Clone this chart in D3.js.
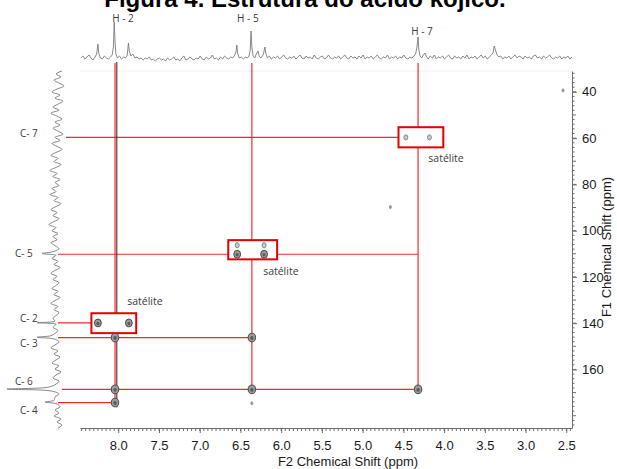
<!DOCTYPE html>
<html><head><meta charset="utf-8">
<script src="https://cdn.jsdelivr.net/npm/d3@7"></script>
<style>body{margin:0;background:#fff}svg{display:block}</style>
</head><body>
<svg id="c" width="617" height="469"></svg>
<script>
// ---------------- data ----------------
const titleBold = "Figura 4.";
const titleRest = " Estrutura do ácido kójico.";
const xTicks = [8.0, 7.5, 7.0, 6.5, 6.0, 5.5, 5.0, 4.5, 4.0, 3.5, 3.0, 2.5];
const yTicks = [40, 60, 80, 100, 120, 140, 160];
const xTitle = "F2 Chemical Shift (ppm)";
const yTitle = "F1 Chemical Shift (ppm)";
const hLabels = ["H - 2", "H - 5", "H - 7"];
const hShifts = [8.04, 6.36, 4.32];
const hLineEnds = [174.2, 168.5, 168.5];
const cLabels = ["C- 7", "C- 5", "C- 2", "C- 3", "C- 6", "C- 4"];
const cShifts = [59.7, 110.2, 139.9, 146.2, 168.6, 174.3];
const cLineEnds = [4.32, 4.32, 8.04, 6.36, 4.32, 8.04];
const crossPeaks = [[8.04, 146.2], [8.04, 168.6], [8.04, 174.3], [6.36, 146.2], [6.36, 168.6], [4.32, 168.6]];
const satellitePeaks = [[8.25, 139.9], [7.87, 139.9], [6.54, 110.2], [6.21, 110.2]];
const weakPeaks = [[6.54, 106.3], [6.21, 106.3], [4.47, 59.7], [4.18, 59.7]];
const tinyPeaks = [[2.54, 39.4], [4.66, 89.8], [6.36, 174.6]];
const satBoxes = [[8.33, 7.78, 135.7, 144.3], [6.65, 6.05, 104.1, 112.4], [4.56, 4.01, 55.3, 64.0]];
const satLabel = "satélite";

// 1H projection (ppm, intensity)
const protonSpectrum = [
[8.460,3],[8.435,5],[8.410,2],[8.385,4],[8.360,6],[8.335,3],[8.310,1],[8.285,4],[8.265,7],[8.250,17],[8.240,8],
[8.220,3],[8.195,2],[8.170,5],[8.145,3],[8.120,2],[8.095,4],[8.075,6],[8.060,14],[8.050,39],[8.040,20],[8.030,7],
[8.010,3],[7.985,5],[7.960,2],[7.935,4],[7.910,3],[7.890,6],[7.875,18],[7.865,10],[7.845,5],[7.820,7],[7.795,3],
[7.770,4],[7.745,2],[7.720,3],[7.695,1],[7.670,3],[7.645,2],[7.620,4],[7.595,1],[7.570,2],[7.545,0],[7.520,2],
[7.495,3],[7.470,1],[7.445,2],[7.420,0],[7.395,3],[7.370,1],[7.345,2],[7.320,4],[7.295,1],[7.270,2],[7.245,0],
[7.220,3],[7.195,5],[7.170,1],[7.145,2],[7.120,4],[7.095,2],[7.070,1],[7.045,3],[7.020,2],[6.995,5],[6.970,2],
[6.945,1],[6.920,4],[6.895,2],[6.870,3],[6.845,6],[6.820,2],[6.795,3],[6.770,1],[6.745,4],[6.720,2],[6.695,5],
[6.670,3],[6.645,2],[6.620,4],[6.595,3],[6.570,6],[6.555,9],[6.545,16],[6.535,8],[6.515,3],[6.490,4],[6.465,2],
[6.440,4],[6.415,3],[6.395,5],[6.380,11],[6.370,30],[6.360,14],[6.345,5],[6.325,3],[6.305,7],[6.285,10],[6.270,5],
[6.250,3],[6.230,5],[6.215,8],[6.200,14],[6.190,8],[6.170,3],[6.145,5],[6.120,2],[6.095,4],[6.070,3],[6.045,5],
[6.020,2],[5.995,4],[5.970,6],[5.945,3],[5.920,2],[5.895,4],[5.870,3],[5.845,5],[5.820,2],[5.795,4],[5.770,6],
[5.745,3],[5.720,2],[5.695,5],[5.670,3],[5.645,4],[5.620,2],[5.595,6],[5.570,3],[5.545,2],[5.520,4],[5.495,5],
[5.470,2],[5.445,3],[5.420,6],[5.395,3],[5.370,2],[5.345,4],[5.320,3],[5.295,5],[5.270,2],[5.245,4],[5.220,6],
[5.195,3],[5.170,2],[5.145,5],[5.120,3],[5.095,4],[5.070,2],[5.045,5],[5.020,3],[4.995,6],[4.970,2],[4.945,4],
[4.920,3],[4.895,5],[4.870,2],[4.845,4],[4.820,6],[4.795,3],[4.770,2],[4.745,4],[4.720,3],[4.695,6],[4.670,2],
[4.645,4],[4.620,3],[4.595,5],[4.570,2],[4.545,4],[4.520,3],[4.495,6],[4.470,3],[4.445,2],[4.420,4],[4.395,3],
[4.370,5],[4.350,7],[4.335,13],[4.320,24],[4.310,11],[4.295,5],[4.275,3],[4.255,6],[4.235,8],[4.215,4],[4.195,2],
[4.170,5],[4.145,3],[4.120,6],[4.095,2],[4.070,4],[4.045,3],[4.020,5],[3.995,2],[3.970,4],[3.945,6],[3.920,3],
[3.895,2],[3.870,5],[3.845,3],[3.820,4],[3.795,2],[3.770,5],[3.745,3],[3.720,6],[3.695,2],[3.670,4],[3.645,3],
[3.620,5],[3.595,2],[3.570,4],[3.545,6],[3.520,3],[3.495,5],[3.470,2],[3.445,4],[3.420,6],[3.400,8],[3.385,15],
[3.370,11],[3.350,6],[3.330,4],[3.305,5],[3.280,2],[3.255,4],[3.230,3],[3.205,5],[3.180,2],[3.155,4],[3.130,6],
[3.105,3],[3.080,5],[3.055,4],[3.030,2],[3.005,5],[2.980,3],[2.955,4],[2.930,2],[2.905,5],[2.880,6],[2.855,3],
[2.830,4],[2.805,2],[2.780,5],[2.755,3],[2.730,4],[2.705,6],[2.680,3],[2.655,2],[2.630,4],[2.605,3],[2.580,5],
[2.555,2],[2.530,4],[2.505,3],[2.480,5],[2.455,2],[2.430,4]
];

// 13C projection (ppm, intensity)
const carbonSpectrum = [
[31,6],[32.3,12],[33.6,7],[34.9,14],[36.2,9],[37.5,4],[38.8,11],[40.1,16],[41.4,8],[42.7,13],[44,5],[45.3,10],
[46.6,15],[47.9,9],[49.2,17],[50.5,11],[51.8,6],[53.1,13],[54.4,8],[55.7,15],[57,10],[58.3,5],[59.7,13],[61,8],
[62.3,16],[63.6,11],[64.9,6],[66.2,12],[67.5,17],[68.8,10],[70.1,14],[71.4,7],[72.7,12],[74,18],[75.3,11],
[76.6,15],[77.9,8],[79.2,13],[80.5,9],[81.8,16],[83.1,12],[84.4,18],[85.7,10],[87,14],[88.3,7],[89.6,12],
[90.9,17],[92.2,11],[93.5,15],[94.8,9],[96.1,14],[97.4,19],[98.7,12],[100,16],[101.3,10],[102.6,15],[103.9,11],
[105.2,17],[106.5,13],[107.8,9],[109.1,15],[109.9,26],[110.7,12],[112,16],[113.3,10],[114.6,14],[115.9,8],
[117.2,13],[118.5,17],[119.8,11],[121.1,15],[122.4,9],[123.7,12],[125,16],[126.3,10],[127.6,14],[128.9,8],
[130.2,13],[131.5,17],[132.8,10],[134.1,14],[135.4,9],[136.7,12],[138,15],[139.1,13],[139.8,31],[140.5,12],
[141.8,15],[143.1,10],[144.4,13],[145.4,17],[146.1,31],[146.8,14],[148.1,9],[149.4,13],[150.7,17],[152,10],
[153.3,14],[154.6,8],[155.9,12],[157.2,16],[158.5,9],[159.8,13],[161.1,7],[162.4,12],[163.7,15],[165,9],
[166.3,12],[167.6,19],[168.5,61],[169.3,17],[170.6,9],[171.9,13],[173.3,14],[174.1,23],[174.9,11],[176.2,8],
[177.5,13],[178.8,9],[180.1,14],[181.4,7],[182.7,11],[184,6],[185.3,10]
];

// ---------------- layout ----------------
const plot = {left: 80, right: 572, top: 71, bottom: 428};
const red = "#ef2b2b", boxRed = "#e50000", spec = "#7a7a7a", lblCol = "#3c3c3c";
const sans = "'Liberation Sans', Arial, sans-serif";
const lblFont = "'Open Sans', 'DejaVu Sans', sans-serif";

const svg = d3.select("#c");
const x = d3.scaleLinear().domain([8.47, 2.43]).range([plot.left, plot.right]);
const y = d3.scaleLinear().domain([31, 185.3]).range([plot.top, plot.bottom]);
const hY = d3.scaleLinear().domain([0, 40]).range([61, 21]);
const cX = d3.scaleLinear().domain([0, 60]).range([68, 8]);

// title (cut at top, as in the reference)
const t = svg.append("text").attr("x", 305).attr("y", 6.7).attr("text-anchor", "middle")
  .attr("font-family", sans).attr("font-size", 24).attr("font-weight", "bold").attr("fill", "#000");
t.append("tspan").text(titleBold);
t.append("tspan").text(titleRest);

// faint top frame
svg.append("line").attr("x1", plot.left).attr("x2", plot.right).attr("y1", plot.top).attr("y2", plot.top)
  .attr("stroke", "#f0f0f0");

// spectra
svg.append("path").datum(protonSpectrum)
  .attr("d", d3.line().x(d => x(d[0])).y(d => hY(d[1])))
  .attr("fill", "none").attr("stroke", spec).attr("stroke-width", 0.9);
svg.append("path").datum(carbonSpectrum)
  .attr("d", d3.line().x(d => cX(d[1])).y(d => y(d[0])).curve(d3.curveCatmullRom))
  .attr("fill", "none").attr("stroke", spec).attr("stroke-width", 0.9);

// guide lines
const lineStartX = [66, 58, 58, 58, 62, 58];
const gl = svg.append("g").attr("stroke", red).attr("stroke-width", 1.2);
cShifts.forEach((c, i) => {
  gl.append("line").attr("x1", lineStartX[i]).attr("x2", x(cLineEnds[i]))
    .attr("y1", y(c)).attr("y2", y(c));
});
hShifts.forEach((h, i) => {
  gl.append("line").attr("x1", x(h)).attr("x2", x(h)).attr("y1", 63).attr("y2", y(hLineEnds[i]));
});
// dark guide beside H-2
svg.append("line").attr("x1", x(hShifts[0]) + 1.8).attr("x2", x(hShifts[0]) + 1.8)
  .attr("y1", 62).attr("y2", y(hLineEnds[0]) + 5).attr("stroke", "#222").attr("stroke-width", 1);

// satellite boxes
svg.append("g").selectAll("rect").data(satBoxes).join("rect")
  .attr("x", d => x(d[0])).attr("y", d => y(d[2]))
  .attr("width", d => x(d[1]) - x(d[0])).attr("height", d => y(d[3]) - y(d[2]))
  .attr("fill", "#fff").attr("stroke", boxRed).attr("stroke-width", 2);

// peaks
function drawPeaks(data, rx, ry, fill, stroke, inner) {
  const g = svg.append("g");
  data.forEach(d => {
    g.append("ellipse").attr("cx", x(d[0])).attr("cy", y(d[1])).attr("rx", rx).attr("ry", ry)
      .attr("fill", fill).attr("stroke", stroke).attr("stroke-width", 1);
    if (inner) g.append("ellipse").attr("cx", x(d[0])).attr("cy", y(d[1]) + 0.5).attr("rx", rx * 0.45).attr("ry", ry * 0.45)
      .attr("fill", inner);
  });
}
drawPeaks(crossPeaks, 3.7, 4.3, "#9a9a9a", "#474747", "#5a5a5a");
drawPeaks(satellitePeaks, 3.4, 3.9, "#9a9a9a", "#474747", "#5a5a5a");
drawPeaks(weakPeaks, 2, 2.6, "#c8c8c8", "#8a8a8a", null);
drawPeaks(tinyPeaks, 1, 1.6, "#999", "#999", null);

// satellite labels
const satLblDx = [-9, -14, -15], satLblY = [[2, -8], [3, 16], [3, 15]];
satBoxes.forEach((b, i) => {
  const yy = satLblY[i][0] === 2 ? y(b[2]) + satLblY[i][1] : y(b[3]) + satLblY[i][1];
  svg.append("text").attr("x", x(b[1]) + satLblDx[i]).attr("y", yy).text(satLabel)
    .attr("font-family", lblFont).attr("font-size", 10.5).attr("fill", lblCol);
});

// H labels
const hLblDx = [8, -4, 4], hLblY = [21.5, 21.5, 35];
hLabels.forEach((l, i) => {
  svg.append("text").attr("x", x(hShifts[i]) + hLblDx[i]).attr("y", hLblY[i]).attr("text-anchor", "middle")
    .text(l).attr("font-family", lblFont).attr("font-size", 10).attr("fill", lblCol);
});
// C labels
const cLblX = [20, 15, 20, 20, 15, 20], cLblDy = [0, 3, -0.5, 9, -4.5, 11];
cLabels.forEach((l, i) => {
  svg.append("text").attr("x", cLblX[i]).attr("y", y(cShifts[i]) + cLblDy[i])
    .text(l).attr("font-family", lblFont).attr("font-size", 10).attr("fill", lblCol);
});

// axes
const axCol = "#6e6e6e";
const gx = svg.append("g").attr("transform", `translate(0,${plot.bottom})`)
  .call(d3.axisBottom(x).tickValues(xTicks).tickFormat(d3.format(".1f")).tickSize(5).tickPadding(8).tickSizeOuter(0));
gx.select(".domain").attr("stroke", axCol);
gx.selectAll(".tick line").attr("stroke", axCol);
gx.selectAll("text").attr("font-family", sans).attr("font-size", 13).attr("fill", "#1a1a1a");
gx.selectAll(".minor").data(d3.range(49, 170).map(i => i / 20)).join("line")
  .attr("x1", d => x(d)).attr("x2", d => x(d)).attr("y1", 0).attr("y2", 3).attr("stroke", axCol);

const gy = svg.append("g").attr("transform", `translate(${plot.right},0)`)
  .call(d3.axisRight(y).tickValues(yTicks).tickSize(5).tickPadding(5).tickSizeOuter(0));
gy.select(".domain").attr("stroke", axCol);
gy.selectAll(".tick line").attr("stroke", axCol);
gy.selectAll("text").attr("font-family", sans).attr("font-size", 13).attr("fill", "#1a1a1a");
gy.selectAll(".minor").data(d3.range(16, 93).map(i => i * 2)).join("line")
  .attr("y1", d => y(d)).attr("y2", d => y(d)).attr("x1", 0).attr("x2", d => d % 10 === 0 ? 4 : 2.5).attr("stroke", axCol);

svg.append("text").attr("x", 348).attr("y", 466).attr("text-anchor", "middle").text(xTitle)
  .attr("font-family", sans).attr("font-size", 13).attr("fill", "#1a1a1a");
svg.append("text").attr("transform", "translate(611,247) rotate(-90)").attr("text-anchor", "middle").text(yTitle)
  .attr("font-family", sans).attr("font-size", 13).attr("fill", "#1a1a1a");
</script>
</body></html>
